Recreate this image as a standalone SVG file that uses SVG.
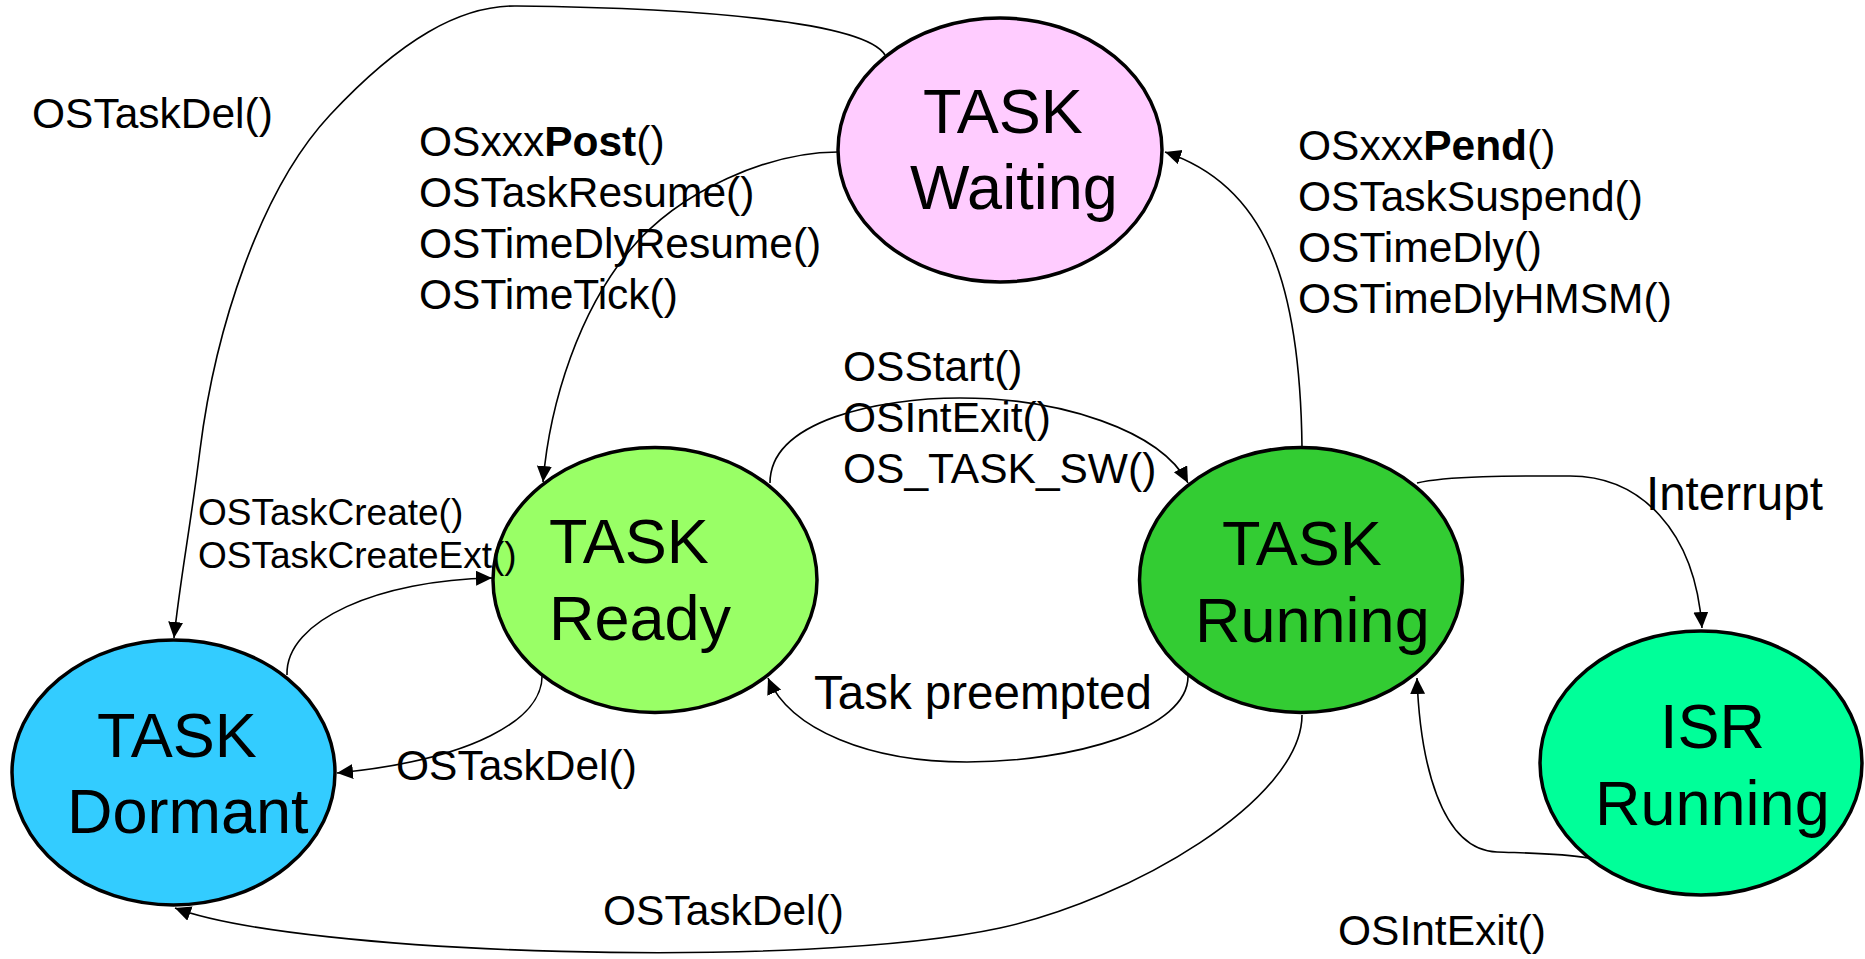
<svg xmlns="http://www.w3.org/2000/svg" width="1865" height="959" viewBox="0 0 1865 959">
  <defs>
    <style>
      .node { stroke: #000; stroke-width: 3.5; }
      .ntext { font-family: "Liberation Sans", Arial, sans-serif; font-size: 63px; fill: #000; }
      .edge { fill: none; stroke: #000; stroke-width: 1.6; marker-end: url(#arrow); }
      .lbl { font-family: "Liberation Sans", Arial, sans-serif; font-size: 42.5px; fill: #000; }
      .lbl-s { font-family: "Liberation Sans", Arial, sans-serif; font-size: 37px; fill: #000; }
      .lbl-l { font-family: "Liberation Sans", Arial, sans-serif; font-size: 47.5px; fill: #000; }
    </style>
    <marker id="arrow" markerUnits="userSpaceOnUse" markerWidth="17" markerHeight="16" refX="16" refY="7.5" orient="auto">
      <path d="M0,0 L16,7.5 L0,15 Z" fill="#000"/>
    </marker>
  </defs>
  <rect width="1865" height="959" fill="#fff"/>

  <g id="connectors">
    <path id="e-waiting-dormant" class="edge" d="M 885 55 C 865 22, 700 8, 517 6 C 460 5, 400 40, 330 115 C 260 190, 215 330, 200 450 C 190 530, 180 580, 174 638"/>
    <path id="e-waiting-ready" class="edge" d="M 838 152 C 770 152, 680 190, 630 250 C 580 310, 550 400, 543 482"/>
    <path id="e-running-waiting" class="edge" d="M 1302 447 C 1300 280, 1265 185, 1165 152"/>
    <path id="e-ready-running" class="edge" d="M 770 483 C 770 420, 880 398, 960 398 C 1060 398, 1160 430, 1188 483"/>
    <path id="e-running-ready" class="edge" d="M 1188 675 C 1190 730, 1070 762, 967 762 C 870 762, 790 730, 768 678"/>
    <path id="e-dormant-ready" class="edge" d="M 287 675 C 285 620, 380 580, 492 578"/>
    <path id="e-ready-dormant" class="edge" d="M 542 673 C 545 720, 470 760, 337 773"/>
    <path id="e-running-dormant" class="edge" d="M 1302 715 C 1302 800, 1130 900, 1000 928 C 805 970, 300 955, 175 908"/>
    <path id="e-running-isr" class="edge" d="M 1417 483 C 1450 475, 1530 476, 1570 476 C 1640 476, 1695 530, 1702 628"/>
    <path id="e-isr-running" class="edge" d="M 1588 858 C 1560 853, 1520 853, 1497 852 C 1440 850, 1420 760, 1417 678"/>
  </g>

  <g id="node-waiting">
    <ellipse class="node" cx="1000" cy="150" rx="162" ry="132" fill="#FFCCFF"/>
    <text class="ntext" x="923" y="133">TASK</text>
    <text class="ntext" x="910" y="209">Waiting</text>
  </g>
  <g id="node-ready">
    <ellipse class="node" cx="655" cy="580" rx="162" ry="132.5" fill="#99FF66"/>
    <text class="ntext" x="549" y="563">TASK</text>
    <text class="ntext" x="549" y="640">Ready</text>
  </g>
  <g id="node-running">
    <ellipse class="node" cx="1301" cy="580" rx="161.5" ry="132.5" fill="#33CC33"/>
    <text class="ntext" x="1222" y="565">TASK</text>
    <text class="ntext" x="1195" y="642">Running</text>
  </g>
  <g id="node-dormant">
    <ellipse class="node" cx="173.5" cy="772.5" rx="161.5" ry="132.5" fill="#33CCFF"/>
    <text class="ntext" x="97" y="757">TASK</text>
    <text class="ntext" x="67" y="833">Dormant</text>
  </g>
  <g id="node-isr">
    <ellipse class="node" cx="1701" cy="763" rx="161" ry="132" fill="#00FF99"/>
    <text class="ntext" x="1660" y="748">ISR</text>
    <text class="ntext" x="1595" y="825">Running</text>
  </g>

  <g id="edge-labels">
    <text class="lbl" x="32" y="128">OSTaskDel()</text>
    <text class="lbl" x="419" y="156">OSxxx<tspan font-weight="bold">Post</tspan>()</text>
    <text class="lbl" x="419" y="207">OSTaskResume()</text>
    <text class="lbl" x="419" y="258">OSTimeDlyResume()</text>
    <text class="lbl" x="419" y="309">OSTimeTick()</text>
    <text class="lbl" x="1298" y="160">OSxxx<tspan font-weight="bold">Pend</tspan>()</text>
    <text class="lbl" x="1298" y="211">OSTaskSuspend()</text>
    <text class="lbl" x="1298" y="262">OSTimeDly()</text>
    <text class="lbl" x="1298" y="313">OSTimeDlyHMSM()</text>
    <text class="lbl" x="843" y="381">OSStart()</text>
    <text class="lbl" x="843" y="432">OSIntExit()</text>
    <text class="lbl" x="843" y="483">OS_TASK_SW()</text>
    <text class="lbl-s" x="198" y="525">OSTaskCreate()</text>
    <text class="lbl-s" x="198" y="568">OSTaskCreateExt()</text>
    <text class="lbl" x="396" y="780">OSTaskDel()</text>
    <text class="lbl-l" x="814" y="709">Task preempted</text>
    <text class="lbl-l" x="1646" y="510">Interrupt</text>
    <text class="lbl" x="603" y="925">OSTaskDel()</text>
    <text class="lbl" x="1338" y="945">OSIntExit()</text>
  </g>
</svg>
